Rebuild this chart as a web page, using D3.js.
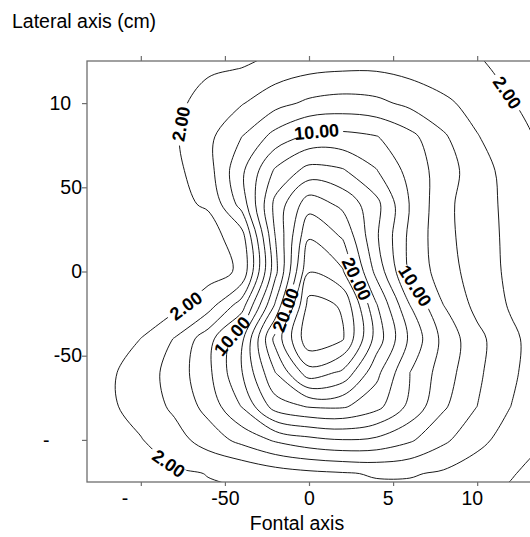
<!DOCTYPE html>
<html>
<head>
<meta charset="utf-8">
<script src="https://cdn.jsdelivr.net/npm/d3@7/dist/d3.min.js"></script>
<style>
  body { margin: 0; background: #fff; }
  svg text { font-family: "Liberation Sans", Arial, sans-serif; }
</style>
</head>
<body>
<svg id="chart" width="530" height="537"></svg>
<script>
// grid nodes of the measured field (cm)
var gridX = [-140, -120, -100, -80, -60, -40, -20, 0, 20, 40, 60, 80, 100, 120, 140];
var gridY = [140, 120, 100, 80, 60, 40, 20, 0, -20, -40, -60, -80, -100, -120, -140];

// values, one row per gridY (top to bottom)
var field = [
  [0.3, 0.4, 0.5, 0.6, 0.8, 1.0, 1.2, 2.4, 2.8, 2.8, 2.5, 2.2, 1.6, 1.1, 0.7],
  [0.5, 0.7, 0.9, 1.2, 1.8, 2.05, 3.0, 3.6, 3.85, 3.85, 3.4, 2.9, 2.35, 1.5, 1.0],
  [0.6, 0.9, 1.2, 1.6, 2.64, 3.86, 5.3, 6.4, 6.8, 6.5, 5.5, 4.4, 3.3, 2.1, 1.3],
  [0.5, 0.8, 1.2, 1.75, 3.5, 6.0, 8.75, 10.5, 10.6, 10.1, 8.6, 6.3, 4.1, 2.8, 1.6],
  [0.4, 0.8, 1.2, 1.5, 3.2, 7.6, 12.3, 14.7, 14.2, 12.1, 9.3, 7.0, 4.9, 3.2, 1.9],
  [0.4, 0.7, 1.0, 1.6, 2.2, 6.8, 14.6, 19.2, 17.5, 14.6, 9.9, 6.6, 4.8, 3.5, 2.1],
  [0.3, 0.5, 0.8, 1.1, 1.2, 3.0, 14.0, 21.9, 19.9, 14.3, 9.5, 6.7, 4.8, 3.6, 2.2],
  [0.3, 0.5, 0.8, 1.0, 1.2, 2.3, 13.4, 23.9, 22.2, 15.4, 9.6, 7.0, 5.0, 3.6, 2.3],
  [0.3, 0.6, 1.0, 1.4, 3.1, 7.0, 16.3, 26.8, 25.8, 18.2, 12.0, 8.0, 5.4, 3.8, 2.5],
  [0.3, 0.9, 2.02, 4.1, 7.2, 11.5, 20.7, 27.5, 26.2, 19.2, 13.6, 9.4, 6.6, 4.4, 3.0],
  [0.4, 1.6, 2.95, 4.8, 7.5, 11.9, 18.0, 23.2, 21.6, 16.6, 12.0, 9.0, 6.4, 4.3, 3.0],
  [0.4, 1.6, 2.8, 4.4, 6.7, 10.1, 15.0, 16.2, 16.3, 14.7, 11.5, 8.3, 6.0, 4.0, 3.0],
  [0.5, 1.2, 1.9, 3.2, 4.9, 6.6, 8.3, 9.4, 9.95, 9.6, 8.3, 6.4, 4.6, 3.1, 2.1],
  [0.6, 0.9, 1.3, 1.7, 2.05, 2.3, 3.0, 3.5, 3.8, 4.2, 4.2, 3.7, 2.9, 2.1, 1.5],
  [0.5, 0.8, 1.1, 1.4, 1.6, 1.7, 2.2, 2.5, 2.7, 2.8, 2.7, 2.4, 2.1, 1.6, 1.2]
];

var levels = [2, 4, 6, 8, 10, 12, 14, 16, 18, 20, 22, 24, 26];

// tick values and the (cut off) labels as printed
var xTicks = [-100, -50, 0, 50, 100];
var xTickFull = ["-100", "-50", "0", "50", "100"];
var xTickShown = ["-", "-50", "0", "5", "10"];
var yTicks = [100, 50, 0, -50, -100];
var yTickFull = ["100", "50", "0", "-50", "-100"];
var yTickShown = ["10", "50", "0", "-50", "-"];

// contour labels: level and where on the map it sits
var labelLevels = [2, 10, 2, 2, 10, 20, 20, 10, 2];
var labelAtX = [-72, 5, 118, -71, -44, -18, 26, 64, -83];
var labelAtY = [87, 81, 106, -23, -40, -21, -6, -8, -113];

var svg = d3.select("#chart");
var W = 530, H = 537;

var x = d3.scaleLinear().domain([-132, 132]).range([87, 531]);
var y = d3.scaleLinear().domain([-125, 125]).range([482, 61]);

var defs = svg.append("defs");
defs.append("clipPath").attr("id", "plotClip")
  .append("rect")
  .attr("x", x(-132)).attr("y", y(125))
  .attr("width", x(132) - x(-132)).attr("height", y(-125) - y(125));

var gapMask = defs.append("mask").attr("id", "labelGap")
  .attr("maskUnits", "userSpaceOnUse")
  .attr("x", 0).attr("y", 0).attr("width", W).attr("height", H);
gapMask.append("rect").attr("width", W).attr("height", H).attr("fill", "white");

// contours on the grid, then grid coords -> cm -> px
var values = [];
field.forEach(function (row) { row.forEach(function (v) { values.push(v); }); });

var contours = d3.contours()
  .size([gridX.length, gridY.length])
  .thresholds(levels)(values);

var gx = d3.scaleLinear().domain([0.5, gridX.length - 0.5]).range([gridX[0], gridX[gridX.length - 1]]);
var gy = d3.scaleLinear().domain([0.5, gridY.length - 0.5]).range([gridY[0], gridY[gridY.length - 1]]);

var rings = [];
contours.forEach(function (c) {
  c.coordinates.forEach(function (poly) {
    poly.forEach(function (ring) {
      rings.push({
        level: c.value,
        pts: ring.slice(0, -1).map(function (p) { return [x(gx(p[0])), y(gy(p[1]))]; })
      });
    });
  });
});

var line = d3.line().curve(d3.curveCatmullRomClosed.alpha(0.5));

var plot = svg.append("g").attr("clip-path", "url(#plotClip)");
var lines = plot.append("g").attr("mask", "url(#labelGap)");

var paths = lines.selectAll("path")
  .data(rings)
  .enter().append("path")
  .attr("d", function (d) { return line(d.pts); })
  .attr("fill", "none")
  .attr("stroke", "#000")
  .attr("stroke-width", 0.9);

// put each label on the nearest stretch of its contour
var labelG = plot.append("g");
labelLevels.forEach(function (lev, i) {
  var tx = x(labelAtX[i]), ty = y(labelAtY[i]);
  var best = null;
  paths.each(function (d) {
    if (d.level !== lev) return;
    var node = this, len = node.getTotalLength();
    for (var s = 0; s < len; s += 1.5) {
      var p = node.getPointAtLength(s);
      var dist = (p.x - tx) * (p.x - tx) + (p.y - ty) * (p.y - ty);
      if (!best || dist < best.dist) best = { dist: dist, node: node, s: s, len: len, p: p };
    }
  });
  if (!best) return;
  var a = best.node.getPointAtLength((best.s - 6 + best.len) % best.len);
  var b = best.node.getPointAtLength((best.s + 6) % best.len);
  var ang = Math.atan2(b.y - a.y, b.x - a.x) * 180 / Math.PI;
  if (ang > 90) ang -= 180;
  if (ang <= -90) ang += 180;
  var tr = "translate(" + best.p.x + "," + best.p.y + ") rotate(" + ang + ")";

  var t = labelG.append("text")
    .attr("transform", tr)
    .attr("text-anchor", "middle")
    .attr("dy", "0.36em")
    .style("font-size", "18px")
    .style("font-weight", "bold")
    .attr("fill", "#000")
    .text(lev.toFixed(2));
  var w = t.node().getComputedTextLength();
  gapMask.append("rect")
    .attr("transform", tr)
    .attr("x", -w / 2 - 4).attr("y", -4)
    .attr("width", w + 8).attr("height", 8)
    .attr("fill", "black");
});

// frame
svg.append("rect")
  .attr("x", x(-132)).attr("y", y(125))
  .attr("width", x(132) - x(-132)).attr("height", y(-125) - y(125))
  .attr("fill", "none")
  .attr("stroke", "#6e6e6e")
  .attr("stroke-width", 1.3);

// axes
var yAxis = svg.append("g")
  .attr("transform", "translate(" + x(-132) + ",0)")
  .call(d3.axisLeft(y).tickValues(yTicks).tickSize(5).tickSizeOuter(0)
    .tickFormat(function (d, i) { return yTickShown[i]; }));

var xAxis = svg.append("g")
  .attr("transform", "translate(0," + y(-125) + ")")
  .call(d3.axisBottom(x).tickValues(xTicks).tickSize(4).tickPadding(5).tickSizeOuter(0)
    .tickFormat(function (d, i) { return xTickShown[i]; }));

var xTop = svg.append("g")
  .attr("transform", "translate(0," + y(125) + ")")
  .call(d3.axisTop(x).tickValues(xTicks).tickSize(5).tickSizeOuter(0).tickFormat(""));

[yAxis, xAxis, xTop].forEach(function (g) {
  g.select(".domain").remove();
  g.selectAll(".tick line").attr("stroke", "#6e6e6e").attr("stroke-width", 1.2);
  g.selectAll(".tick text").attr("fill", "#000").style("font-size", "19.5px").attr("font-family", null);
});

// the printed labels are clipped versions of the full ones, so place them as the full text would sit
yAxis.selectAll(".tick text").each(function (d, i) {
  var el = d3.select(this);
  el.text(yTickFull[i]);
  var fw = this.getComputedTextLength();
  el.text(yTickShown[i]).attr("text-anchor", "start").attr("x", -5 - fw);
});
xAxis.selectAll(".tick text").each(function (d, i) {
  var el = d3.select(this);
  el.text(xTickFull[i]);
  var fw = this.getComputedTextLength();
  el.text(xTickShown[i]).attr("text-anchor", "start").attr("x", -fw / 2);
});

// titles
svg.append("text")
  .attr("x", 12).attr("y", 28)
  .style("font-size", "19.5px")
  .text("Lateral axis (cm)");

svg.append("text")
  .attr("x", 297).attr("y", 530)
  .attr("text-anchor", "middle")
  .style("font-size", "19.5px")
  .text("Fontal axis");
</script>
</body>
</html>
